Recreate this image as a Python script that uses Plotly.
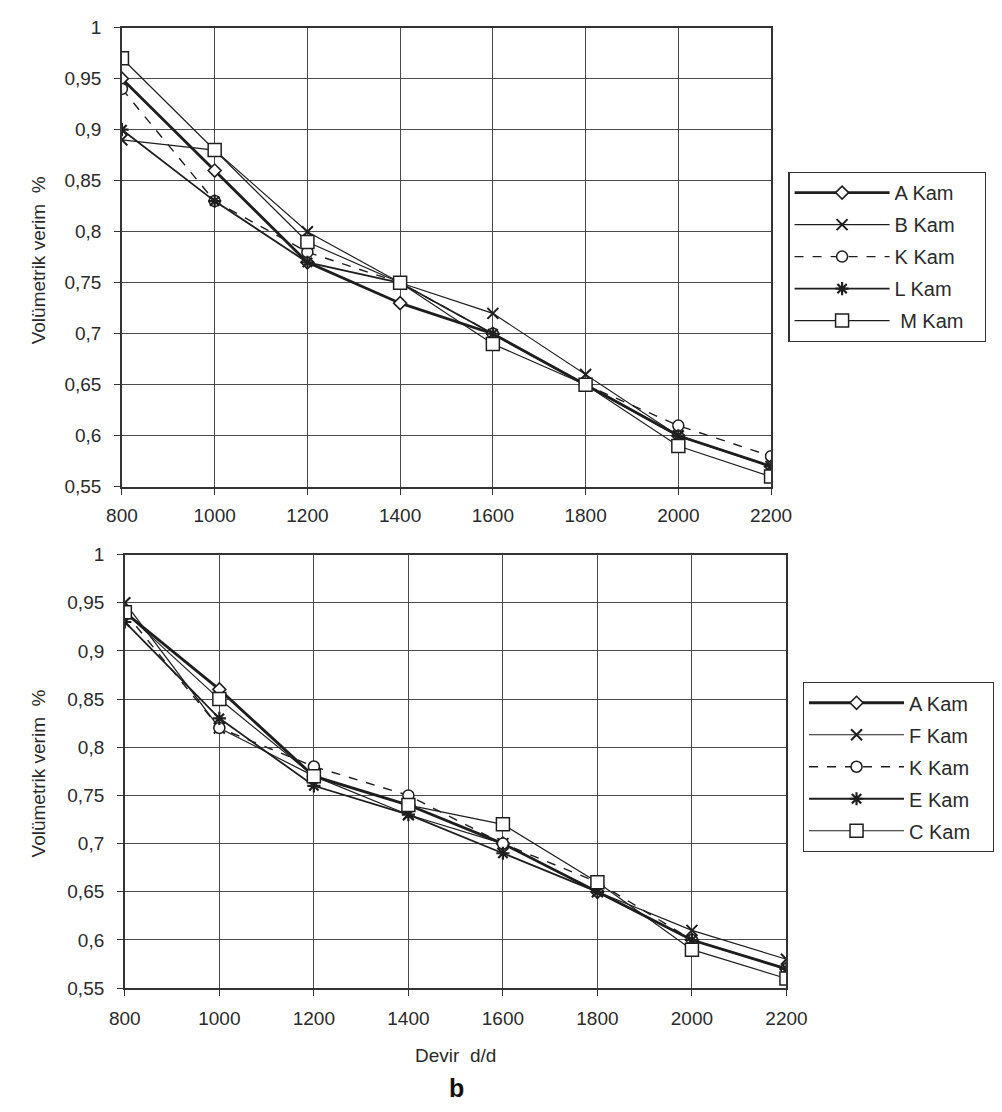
import plotly.graph_objects as go

rpm = [800, 1000, 1200, 1400, 1600, 1800, 2000, 2200]

# Top chart series
top_names = ["A Kam", "B Kam", "K Kam", "L Kam", "\u00a0M Kam"]
top_A = [0.95, 0.86, 0.77, 0.73, 0.70, 0.65, 0.60, 0.57]
top_B = [0.89, 0.88, 0.80, 0.75, 0.72, 0.66, 0.60, 0.57]
top_K = [0.94, 0.83, 0.78, 0.75, 0.70, 0.65, 0.61, 0.58]
top_L = [0.90, 0.83, 0.77, 0.75, 0.70, 0.65, 0.60, 0.57]
top_M = [0.97, 0.88, 0.79, 0.75, 0.69, 0.65, 0.59, 0.56]

# Bottom chart series
bot_names = ["A Kam", "F Kam", "K Kam", "E Kam", "C Kam"]
bot_A = [0.94, 0.86, 0.77, 0.74, 0.70, 0.65, 0.60, 0.57]
bot_F = [0.95, 0.82, 0.77, 0.73, 0.70, 0.65, 0.61, 0.58]
bot_K = [0.94, 0.82, 0.78, 0.75, 0.70, 0.66, 0.60, 0.57]
bot_E = [0.93, 0.83, 0.76, 0.73, 0.69, 0.65, 0.60, 0.57]
bot_C = [0.94, 0.85, 0.77, 0.74, 0.72, 0.66, 0.59, 0.56]

y_title = "Volümetrik verim\u00a0\u00a0%"
x_title = "Devir\u00a0\u00a0d/d"

INK = "#1e1e1e"
TXT = "#2a2a2a"
FONT = "Liberation Sans, Arial, sans-serif"

styles = [
    dict(line=dict(color=INK, width=2.8), marker=dict(symbol="diamond", size=10, color="white", line=dict(color=INK, width=1.6))),
    dict(line=dict(color=INK, width=1.2), marker=dict(symbol="x-thin", size=11, color=INK, line=dict(color=INK, width=2))),
    dict(line=dict(color=INK, width=1.4, dash="dash"), marker=dict(symbol="circle", size=11, color="white", line=dict(color=INK, width=1.5))),
    dict(line=dict(color=INK, width=1.8), marker=dict(symbol="asterisk", size=11, color=INK, line=dict(color=INK, width=2.2))),
    dict(line=dict(color=INK, width=1.2), marker=dict(symbol="square", size=13, color="white", line=dict(color=INK, width=1.5))),
]

PAD = "\u00a0\u00a0\u00a0"

fig = go.Figure()

top_series = [top_A, top_B, top_K, top_L, top_M]
for i, (name, ys) in enumerate(zip(top_names, top_series)):
    fig.add_trace(go.Scatter(
        x=rpm, y=ys, name=name + PAD, mode="lines+markers",
        xaxis="x", yaxis="y", legend="legend", legendgroup="t" + str(i),
        **styles[i]))

bot_series = [bot_A, bot_F, bot_K, bot_E, bot_C]
for i, (name, ys) in enumerate(zip(bot_names, bot_series)):
    fig.add_trace(go.Scatter(
        x=rpm, y=ys, name=name + PAD, mode="lines+markers",
        xaxis="x2", yaxis="y2", legend="legend2", legendgroup="b" + str(i),
        **styles[i]))

W, H = 1002, 1112

def px_x(p):
    return p / W

def px_y(p):
    return 1 - p / H

axis_common = dict(
    showline=True, mirror=True, linecolor="#333333", linewidth=1.5,
    showgrid=True, gridcolor="#4a4a4a", gridwidth=1.2,
    ticks="outside", ticklen=6, tickcolor="#333333", tickwidth=1.2,
    zeroline=False,
    tickfont=dict(family=FONT, size=19, color=TXT),
)

legend_common = dict(
    xanchor="left", yanchor="top",
    bordercolor="#333333", borderwidth=1.2, bgcolor="white",
    font=dict(family=FONT, size=20, color=TXT),
    itemwidth=95, tracegroupgap=3, traceorder="grouped",
)

fig.update_layout(
    width=W, height=H,
    margin=dict(l=0, r=0, t=0, b=0),
    paper_bgcolor="white", plot_bgcolor="white",
    separators=", ",
    showlegend=True,
    font=dict(family=FONT, color=TXT),
    xaxis=dict(domain=[px_x(110), px_x(784)], range=[800, 2200], dtick=200, tick0=800,
               anchor="y", ticklabelstandoff=5, **axis_common),
    yaxis=dict(domain=[px_y(486), px_y(18)], range=[0.55, 1.0], dtick=0.05, tick0=0.55,
               anchor="x", ticklabelstandoff=9, **axis_common),
    xaxis2=dict(domain=[px_x(113), px_x(800)], range=[800, 2200], dtick=200, tick0=800,
                anchor="y2", ticklabelstandoff=6,
                title=dict(text=x_title, font=dict(family=FONT, size=19, color=TXT), standoff=21),
                **axis_common),
    yaxis2=dict(domain=[px_y(997), px_y(555)], range=[0.55, 1.0], dtick=0.05, tick0=0.55,
                anchor="x2", ticklabelstandoff=9, **axis_common),
    legend=dict(x=px_x(802), y=px_y(165), **legend_common),
    legend2=dict(x=px_x(817), y=px_y(685), **legend_common),
    annotations=[
        dict(text=y_title, x=px_x(23), y=px_y(255), xref="paper", yref="paper",
             xanchor="center", yanchor="middle",
             textangle=-90, showarrow=False, font=dict(family=FONT, size=19, color=TXT)),
        dict(text=y_title, x=px_x(23), y=px_y(778), xref="paper", yref="paper",
             xanchor="center", yanchor="middle",
             textangle=-90, showarrow=False, font=dict(family=FONT, size=19, color=TXT)),
        dict(text="<b>b</b>", x=px_x(457), y=px_y(1099), xref="paper", yref="paper",
             xanchor="center", yanchor="middle",
             showarrow=False, font=dict(family=FONT, size=25, color="#111111")),
    ],
)

fig.write_html("out.html")
